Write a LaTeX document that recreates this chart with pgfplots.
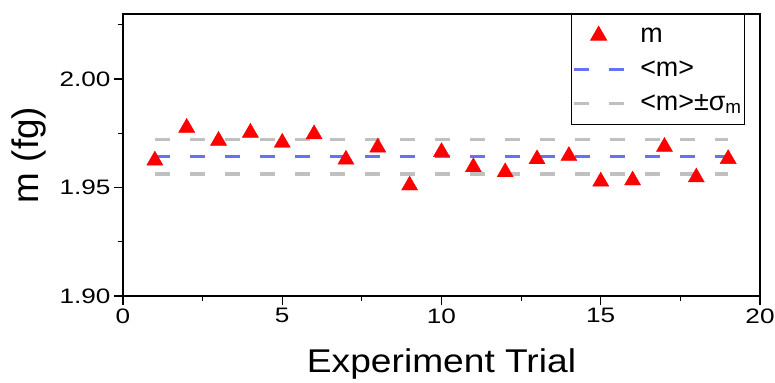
\documentclass[border=0pt]{standalone}
\usepackage{pgfplots}
\pgfplotsset{compat=1.18}
\usepackage{fontspec}
\setmainfont{Liberation Sans}
\newfontfamily\tickfont[FakeStretch=1.25]{Liberation Sans}
\newfontfamily\xlabfont[FakeStretch=1.13]{Liberation Sans}
\definecolor{mred}{RGB}{255,0,0}
\definecolor{mblue}{RGB}{100,115,245}
\definecolor{mgray}{RGB}{192,192,192}
\pgfplotsset{
  lineleg/.style={legend image code/.code={\draw[##1] (0bp,0bp) -- (50bp,0bp);}},
  markleg/.style={legend image code/.code={\draw[##1] plot coordinates {(25bp,0bp)};}},
}
\pgfplotstableread{
x y
1 1.9625
2 1.9776
3 1.9716
4 1.9753
5 1.9707
6 1.9746
7 1.9629
8 1.9685
9 1.9510
10 1.9664
11 1.9594
12 1.9571
13 1.9631
14 1.9646
15 1.9528
16 1.9533
17 1.9688
18 1.9547
19 1.9632
}\mdata
\begin{document}
\begin{tikzpicture}
\begin{axis}[
  at={(123bp,87bp)}, anchor=south west,
  width=637bp, height=282bp, scale only axis,
  xmin=0, xmax=20, ymin=1.90, ymax=2.03,
  xtick={0,5,10,15,20}, minor xtick={2.5,7.5,12.5,17.5},
  ytick={1.90,1.95,2.00}, minor ytick={1.925,1.975,2.025},
  axis line style={line width=1.2bp},
  every tick/.style={line width=1.2bp, black},
  major tick length=9bp, minor tick length=5bp,
  tick align=outside,
  xtick pos=bottom, ytick pos=left,
  /pgf/number format/assume math mode=true,
  yticklabel style={/pgf/number format/fixed, /pgf/number format/fixed zerofill, /pgf/number format/precision=2, font=\tickfont\fontsize{21}{24}\selectfont},
  xticklabel style={font=\tickfont\fontsize{21}{24}\selectfont},
  xlabel={Experiment Trial},
  xlabel style={at={(axis description cs:0.5,-0.273)}, anchor=base, font=\xlabfont\fontsize{33}{36}\selectfont},
  ylabel={m (fg)},
  ylabel style={at={(axis description cs:-0.148,0.5)}, anchor=center, font=\fontsize{37}{40}\selectfont},
  legend style={at={(rel axis cs:0.9765,1)}, anchor=north east, draw=black, line width=0.8bp,
    font=\fontsize{27}{30}\selectfont, row sep=5bp, inner xsep=1bp, inner ysep=6.7bp,
    nodes={inner xsep=2bp, inner ysep=2bp, text height=19bp, text depth=6bp},
    /tikz/every odd column/.append style={column sep=13bp}},
  legend cell align=left,
]
\addplot[only marks, mark=triangle*, mark size=9.3bp, color=mred, markleg] table[x=x,y=y] {\mdata};
\addlegendentry{m}
\addplot[mblue, line width=3.2bp, dash pattern=on 15bp off 20bp, lineleg] coordinates {(1,1.9642) (19,1.9642)};
\addlegendentry{<m>}
\addplot[mgray, line width=3.2bp, dash pattern=on 15bp off 20bp, lineleg] coordinates {(1,1.9722) (19,1.9722)};
\addlegendentry{<m>±σ\textsubscript{m}}
\addplot[mgray, line width=3.2bp, dash pattern=on 15bp off 20bp, forget plot] coordinates {(1,1.9562) (19,1.9562)};
\end{axis}
\pgfresetboundingbox
\path[use as bounding box] (0,0) rectangle (775bp,383bp);
\end{tikzpicture}
\end{document}
